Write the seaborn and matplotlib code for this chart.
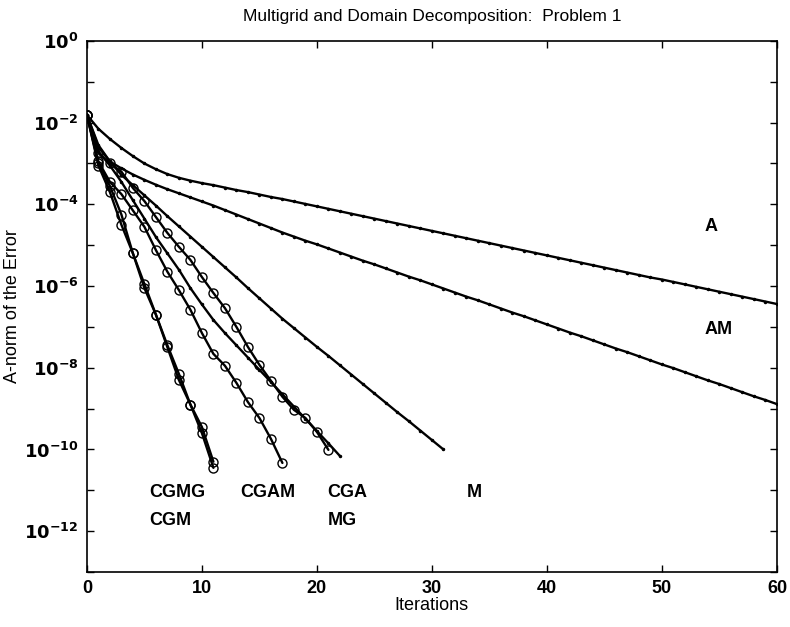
import numpy as np
import pandas as pd
import matplotlib
matplotlib.use("Agg")
import matplotlib.pyplot as plt
import seaborn as sns

# log10 of the A-norm error, one value per iteration
a_log = [-1.81, -2.15, -2.40, -2.62, -2.82, -3.00, -3.14, -3.26, -3.35, -3.42,
         -3.48, -3.53, -3.59, -3.65, -3.70, -3.76, -3.82, -3.87, -3.93, -3.99,
         -4.05, -4.11, -4.17, -4.23, -4.29, -4.35, -4.41, -4.47, -4.53, -4.59,
         -4.65, -4.71, -4.77, -4.83, -4.89, -4.95, -5.01, -5.07, -5.13, -5.19,
         -5.25, -5.31, -5.37, -5.43, -5.49, -5.55, -5.61, -5.67, -5.73, -5.79,
         -5.84, -5.90, -5.96, -6.02, -6.08, -6.14, -6.20, -6.26, -6.32, -6.38,
         -6.44]
am_log = [-1.81, -2.60, -2.95, -3.12, -3.27, -3.40, -3.52, -3.63, -3.73, -3.83,
          -3.93, -4.03, -4.14, -4.25, -4.36, -4.47, -4.58, -4.69, -4.79, -4.89,
          -4.98, -5.08, -5.18, -5.28, -5.38, -5.47, -5.57, -5.67, -5.77, -5.86,
          -5.96, -6.06, -6.16, -6.26, -6.35, -6.45, -6.55, -6.65, -6.74, -6.84,
          -6.94, -7.04, -7.14, -7.23, -7.33, -7.43, -7.53, -7.62, -7.72, -7.82,
          -7.92, -8.01, -8.11, -8.21, -8.31, -8.40, -8.50, -8.60, -8.70, -8.79,
          -8.89]
m_log = [-1.81, -2.55, -2.95, -3.28, -3.53, -3.78, -4.03, -4.29, -4.54, -4.79,
         -5.04, -5.29, -5.54, -5.79, -6.05, -6.30, -6.55, -6.80, -7.03, -7.26,
         -7.49, -7.71, -7.94, -8.17, -8.40, -8.63, -8.86, -9.09, -9.31, -9.54,
         -9.77, -10.00]
mg_log = [-1.81, -2.70, -3.05, -3.45, -3.90, -4.35, -4.80, -5.20, -5.60, -6.05,
          -6.45, -6.83, -7.15, -7.45, -7.75, -8.05, -8.35, -8.65, -8.95, -9.25,
          -9.55, -9.85, -10.16]
cga_log = [-1.81, -2.75, -3.00, -3.20, -3.60, -3.92, -4.31, -4.70, -5.04, -5.36,
           -5.78, -6.17, -6.54, -7.00, -7.49, -7.93, -8.32, -8.71, -9.03, -9.23,
           -9.57, -10.01]
cgam_log = [-1.81, -2.95, -3.45, -3.75, -4.15, -4.55, -5.12, -5.65, -6.10, -6.58,
            -7.15, -7.66, -7.95, -8.37, -8.84, -9.23, -9.74, -10.33]
cgmg_log = [-1.81, -3.00, -3.55, -4.25, -5.20, -5.95, -6.70, -7.45, -8.15, -8.90,
            -9.45, -10.30]
cgm_log = [-1.81, -3.05, -3.70, -4.50, -5.20, -6.05, -6.70, -7.50, -8.30, -8.90,
           -9.60, -10.45]

# curve labels: text, x (iterations), y (error)
label_text = ["A", "AM", "CGMG", "CGM", "CGAM", "CGA", "MG", "M"]
label_x = [53.7, 53.7, 5.4, 5.4, 13.3, 20.9, 20.9, 33.0]
label_y = [10**-4.53, 10**-7.07, 10**-11.06, 10**-11.73, 10**-11.06, 10**-11.06,
           10**-11.73, 10**-11.06]

sns.set_style("ticks")
plt.rcParams["font.family"] = ["Liberation Sans", "DejaVu Sans"]
plt.rcParams["text.color"] = "black"
plt.rcParams["axes.labelcolor"] = "black"
plt.rcParams["xtick.color"] = "black"
plt.rcParams["ytick.color"] = "black"
plt.rcParams["mathtext.default"] = "bf"

fig = plt.figure(figsize=(7.9, 6.27), dpi=100)
ax = fig.add_axes([0.110, 0.0877, 0.8735, 0.847])


def draw(logs, marker, ms, mfc):
    df = pd.DataFrame({"it": np.arange(len(logs)), "err": 10.0 ** np.array(logs)})
    sns.lineplot(data=df, x="it", y="err", ax=ax, color="black", lw=1.7,
                 marker=marker, markersize=ms, markerfacecolor=mfc,
                 markeredgecolor="black", markeredgewidth=1.0,
                 estimator=None, sort=False)


for logs in [a_log, am_log, m_log, mg_log]:
    draw(logs, ".", 3, "black")
for logs in [cga_log, cgam_log, cgmg_log, cgm_log]:
    draw(logs, "o", 6.5, "none")

for t, x, y in zip(label_text, label_x, label_y):
    ax.text(x, y, t, fontsize=13, fontweight="bold", va="center", ha="left")

ax.set_yscale("log")
ax.set_xlim(0, 60)
ax.set_ylim(1e-13, 1e0)
ax.set_xticks([0, 10, 20, 30, 40, 50, 60])
yt = [10.0 ** e for e in range(-13, 1)]
ax.set_yticks(yt)
ax.set_yticklabels([f"$10^{{{e}}}$" if e % 2 == 0 else "" for e in range(-13, 1)])
ax.yaxis.set_minor_locator(matplotlib.ticker.NullLocator())
ax.tick_params(direction="in", top=True, right=True, length=5, width=1,
               labelsize=13, pad=6)
for lbl in ax.get_xticklabels() + ax.get_yticklabels():
    lbl.set_fontweight("bold")
for s in ax.spines.values():
    s.set_linewidth(1.2)
    s.set_color("black")

ax.set_xlabel("Iterations", fontsize=13, labelpad=0)
ax.set_ylabel("A-norm of the Error", fontsize=13, labelpad=2)
ax.set_title("Multigrid and Domain Decomposition:  Problem 1", fontsize=12.5, pad=14)

fig.savefig("out.png", dpi=100)
